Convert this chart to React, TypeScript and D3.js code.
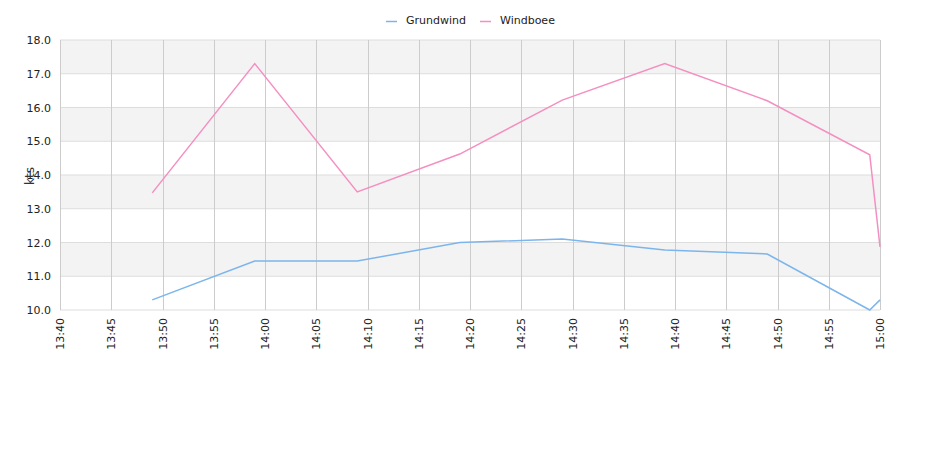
import React from "react";
import * as d3 from "d3";

const times = ["13:49", "13:59", "14:09", "14:19", "14:29", "14:39", "14:49", "14:59", "15:00"];
const grundwind = [10.3, 11.45, 11.45, 12.0, 12.1, 11.78, 11.66, 10.0, 10.3];
const windboee = [13.47, 17.3, 13.5, 14.62, 16.22, 17.3, 16.2, 14.6, 11.87];
const xTickLabels = ["13:40","13:45","13:50","13:55","14:00","14:05","14:10","14:15","14:20","14:25","14:30","14:35","14:40","14:45","14:50","14:55","15:00"];
const yTicks = [10, 11, 12, 13, 14, 15, 16, 17, 18];
const seriesNames = ["Grundwind", "Windboee"];
const seriesColors = ["#7cb5ec", "#f48fc1"];

const toMin = (t: string) => {
  const [h, m] = t.split(":").map(Number);
  return h * 60 + m;
};

export default function App() {
  const W = 940, H = 450;
  const left = 60, right = 880, top = 40, bottom = 310;
  const x = d3.scaleLinear().domain([toMin("13:40"), toMin("15:00")]).range([left, right]);
  const y = d3.scaleLinear().domain([10, 18]).range([bottom, top]);
  const line = d3.line<[number, number]>().x(d => x(d[0])).y(d => y(d[1]));
  const series = [grundwind, windboee];
  const font = "DejaVu Sans, sans-serif";
  return (
    <svg width={W} height={H} style={{ position: "absolute", left: 0, top: 0 }} fontFamily={font}>
      <rect width={W} height={H} fill="#fff" />
      {yTicks.slice(0, -1).map((v, i) => (
        <rect key={"b" + v} x={left} width={right - left} y={y(v + 1)} height={y(v) - y(v + 1)} fill={i % 2 === 1 ? "#f3f3f3" : "#ffffff"} />
      ))}
      {yTicks.map(v => (
        <line key={"h" + v} x1={left} x2={right} y1={y(v)} y2={y(v)} stroke="#dddddd" strokeWidth={1} />
      ))}
      {xTickLabels.map(t => (
        <line key={"v" + t} x1={Math.round(x(toMin(t))) + 0.5} x2={Math.round(x(toMin(t))) + 0.5} y1={top} y2={bottom} stroke="#cccccc" strokeWidth={1} />
      ))}
      {yTicks.map(v => (
        <text key={"yl" + v} x={51} y={y(v) + 4} textAnchor="end" fontSize={11} fill="#222">{v.toFixed(1)}</text>
      ))}
      {xTickLabels.map(t => (
        <text key={"xl" + t} transform={`translate(${x(toMin(t)) + 4},${bottom + 8}) rotate(-90)`} textAnchor="end" fontSize={11} fill="#222">{t}</text>
      ))}
      <text transform={`translate(34,176) rotate(-90)`} textAnchor="middle" fontSize={12} fill="#333">kts</text>
      {series.map((s, i) => (
        <path key={"s" + i} d={line(times.map((t, j) => [toMin(t), s[j]] as [number, number])) || ""} fill="none" stroke={seriesColors[i]} strokeWidth={1.5} />
      ))}
      {seriesNames.map((n, i) => {
        const lx = i === 0 ? 386 : 480;
        return (
          <g key={"lg" + n}>
            <line x1={lx} x2={lx + 11} y1={21.5} y2={21.5} stroke={seriesColors[i]} strokeWidth={1.5} />
            <text x={lx + 20} y={24} fontSize={11} fill="#222">{n}</text>
          </g>
        );
      })}
    </svg>
  );
}
